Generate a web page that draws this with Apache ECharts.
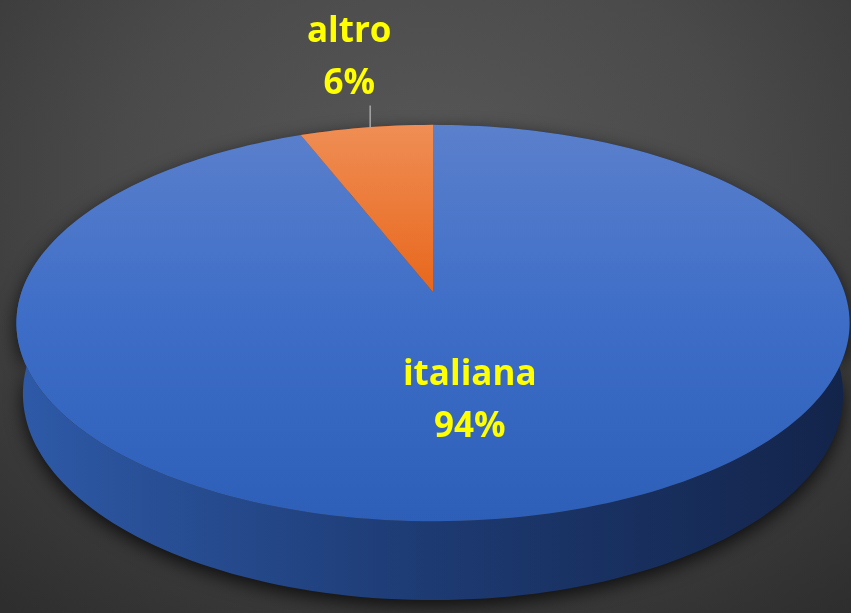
<!DOCTYPE html>
<html lang="it">
  <head>
    <meta charset="UTF-8" />
    <title>Torta 3D</title>
    <script src="https://cdn.jsdelivr.net/npm/echarts@6/dist/echarts.min.js"></script>
    <style>
      body { margin: 0; background: #2e2e2e; }
      #main {
        width: 851px;
        height: 613px;
        background: radial-gradient(ellipse 80% 90% at 50% 28%, #575757 0%, #4a4a4a 45%, #2e2e2e 100%);
      }
    </style>
  </head>
  <body>
    <div id="main"></div>
    <script>
      // dati
      const categories = ["italiana", "altro"];
      const values = [94, 6];

      // proiezione prospettica del disco (gradi in senso orario dal punto più lontano)
      const CX = 433, CY = 292;
      const FX = 2333, FY = 2383, D = 5.67;
      const SIN_A = 0.46, COS_A = 0.888, H = 0.191;

      function project(deg, r, h) {
        const t = deg * Math.PI / 180;
        const u = r * Math.sin(t), w = r * Math.cos(t);
        const z = D + w * COS_A - h * SIN_A;
        return [CX + FX * u / z, CY - FY * (w * SIN_A + h * COS_A) / z];
      }

      const total = values.reduce((a, b) => a + b, 0);
      const starts = [];
      let acc = 0;
      values.forEach(v => { starts.push(acc / total * 360); acc += v; });

      const topFill = [
        { type: "linear", x: 0, y: 125, x2: 0, y2: 521, global: true,
          colorStops: [{ offset: 0, color: "#5b80cc" }, { offset: 0.5, color: "#3d6dc7" }, { offset: 1, color: "#2d5fb8" }] },
        { type: "linear", x: 0, y: 125, x2: 0, y2: 292, global: true,
          colorStops: [{ offset: 0, color: "#ef8e55" }, { offset: 1, color: "#e8671c" }] }
      ];
      const wallFill = [
        { type: "linear", x: 15, y: 0, x2: 848, y2: 0, global: true,
          colorStops: [{ offset: 0, color: "#2e5aa8" }, { offset: 0.5, color: "#1d3a72" }, { offset: 1, color: "#13244a" }] },
        { type: "linear", x: 15, y: 0, x2: 848, y2: 0, global: true,
          colorStops: [{ offset: 0, color: "#b85010" }, { offset: 1, color: "#7a3408" }] }
      ];

      function renderItem(params, api) {
        const i = params.dataIndex;
        const a0 = starts[i];
        const a1 = a0 + api.value(0) / total * 360;
        const steps = Math.max(4, Math.ceil((a1 - a0) / 1.5));
        const topPts = [project(a0, 0, 0)];
        const rimTop = [], rimBot = [];
        for (let k = 0; k <= steps; k++) {
          const a = a0 + (a1 - a0) * k / steps;
          rimTop.push(project(a, 1, 0));
          rimBot.push(project(a, 1, -H));
        }
        topPts.push(...rimTop);
        const wallPts = rimTop.concat(rimBot.reverse());

        const pct = Math.round(api.value(0) / total * 100) + "%";
        const mid = (a0 + a1) / 2;
        const children = [
          { type: "polygon", z2: 1, shape: { points: wallPts },
            style: { fill: wallFill[i], shadowBlur: 18, shadowOffsetY: 6, shadowColor: "rgba(0,0,0,0.75)" } },
          { type: "polygon", z2: 10, shape: { points: topPts }, style: { fill: topFill[i] } }
        ];
        const labelStyle = {
          fill: "#ffff00", fontSize: 35, fontWeight: "bold", fontFamily: "Open Sans",
          align: "center", verticalAlign: "middle", lineHeight: 52
        };
        if (api.value(0) / total < 0.15) {
          const rim = project(mid, 1, 0);
          children.push({ type: "line", z2: 20,
            shape: { x1: rim[0] + 4, y1: rim[1], x2: rim[0] + 4, y2: rim[1] - 22 },
            style: { stroke: "#a6a6a6", lineWidth: 1.5 } });
          children.push({ type: "text", z2: 20,
            style: Object.assign({ text: categories[i] + "\n" + pct, x: rim[0] - 17, y: rim[1] - 69 }, labelStyle) });
        } else {
          const p = project(mid, 0.5, 0);
          children.push({ type: "text", z2: 20,
            style: Object.assign({ text: categories[i] + "\n" + pct, x: p[0] - 5, y: p[1] + 6 }, labelStyle) });
        }
        return { type: "group", children };
      }

      const chart = echarts.init(document.getElementById("main"));
      chart.setOption({
        backgroundColor: "transparent",
        animation: false,
        series: [{
          type: "custom",
          coordinateSystem: "none",
          renderItem,
          data: values.map((v, i) => ({ name: categories[i], value: [v] }))
        }]
      });
    </script>
  </body>
</html>
